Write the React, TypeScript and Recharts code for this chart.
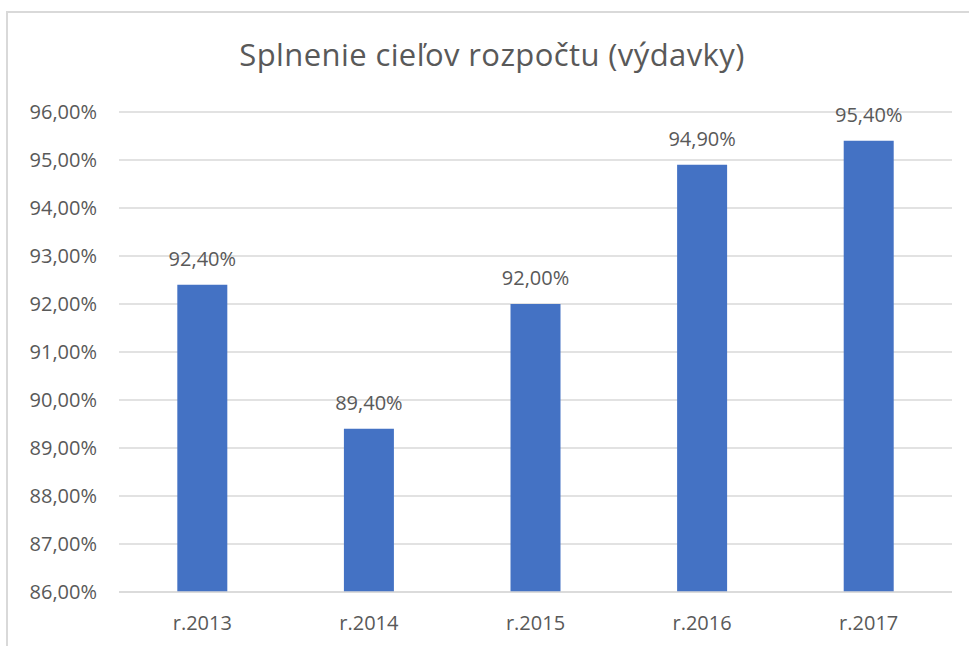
import { BarChart, Bar, XAxis, YAxis, CartesianGrid, LabelList } from "recharts";

const years = ["r.2013", "r.2014", "r.2015", "r.2016", "r.2017"];
const plnenie = [0.924, 0.894, 0.92, 0.949, 0.954];
const yTicks = [0.86, 0.87, 0.88, 0.89, 0.9, 0.91, 0.92, 0.93, 0.94, 0.95, 0.96];

const data = years.map((rok, i) => ({ rok, plnenie: plnenie[i] }));

const pct = (v: any) => (Number(v) * 100).toFixed(2).replace(".", ",") + "%";

const font = "'Open Sans', 'Noto Sans', sans-serif";

export default function App() {
  return (
    <div
      style={{
        position: "fixed",
        left: 0,
        top: 0,
        width: 969,
        height: 646,
        overflow: "hidden",
        background: "#fff",
        fontFamily: font,
      }}
    >
      {/* chart frame */}
      <div
        style={{
          position: "absolute",
          left: 6,
          top: 11,
          width: 1000,
          height: 700,
          border: "2px solid #d9d9d9",
        }}
      />
      <div
        style={{
          position: "absolute",
          left: 0,
          top: 33,
          width: 984,
          textAlign: "center",
          fontSize: 31,
          lineHeight: "normal",
          letterSpacing: 0.4,
          color: "#595959",
        }}
      >
        Splnenie cieľov rozpočtu (výdavky)
      </div>

      <BarChart
        width={969}
        height={646}
        data={data}
        margin={{ top: 112, right: 17, bottom: 0, left: 0 }}
        barCategoryGap="35%"
        style={{ position: "absolute", left: 0, top: 0 }}
      >
        <CartesianGrid vertical={false} stroke="#d9d9d9" strokeWidth={1.5} />
        <XAxis
          dataKey="rok"
          axisLine={{ stroke: "#d9d9d9", strokeWidth: 1.5 }}
          tickLine={false}
          tickSize={0}
          tickMargin={24}
          height={54}
          tick={{ fill: "#595959", fontSize: 20, fontFamily: font }}
        />
        <YAxis
          width={119}
          domain={[0.86, 0.96]}
          ticks={yTicks}
          interval={0}
          axisLine={false}
          tickLine={false}
          tickSize={0}
          tickMargin={22}
          tickFormatter={pct}
          tick={{ fill: "#595959", fontSize: 20, fontFamily: font }}
        />
        <Bar dataKey="plnenie" fill="#4472C4" isAnimationActive={false}>
          <LabelList
            dataKey="plnenie"
            position="top"
            offset={19}
            formatter={pct}
            style={{ fill: "#595959", fontSize: 20, fontFamily: font }}
          />
        </Bar>
      </BarChart>
    </div>
  );
}
